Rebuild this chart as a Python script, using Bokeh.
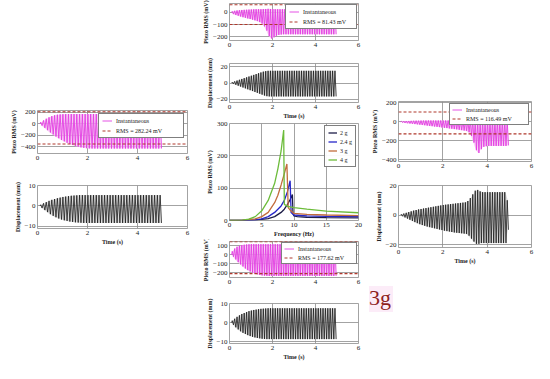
from bokeh.plotting import figure
from bokeh.models import Range1d, FixedTicker, Legend, LegendItem, Spacer, Div
from bokeh.layouts import row, column
from bokeh.embed import file_html
from bokeh.resources import INLINE

# ---------------- data ----------------
cycle_start = 0.1          # s, first excitation cycle
cycle_period = 1.0 / 9.0   # s, excitation period

time_ticks = [0, 2, 4, 6]

# 4 g run (left)
left_piezo_hi = [30, 60, 90, 115, 135, 150, 160, 165, 168, 170, 170,
                 170, 170, 170, 170, 170, 170, 170, 170, 170, 170, 170,
                 170, 170, 170, 170, 170, 170, 170, 170, 170, 170, 170,
                 170, 170, 170, 170, 170, 170, 170, 170, 170, 170, 170]
left_piezo_lo = [-30, -70, -110, -150, -185, -220, -250, -280, -305, -330, -350,
                 -368, -385, -398, -410, -418, -424, -428, -430, -430, -430, -430,
                 -430, -430, -430, -430, -430, -430, -430, -430, -430, -430, -430,
                 -430, -430, -430, -430, -430, -430, -430, -430, -430, -430, -430]
left_disp_hi = [0.6, 1.3, 1.9, 2.5, 3.0, 3.4, 3.8, 4.1, 4.4, 4.6, 4.8,
                5.0, 5.1, 5.2, 5.3, 5.3, 5.3, 5.3, 5.3, 5.3, 5.3, 5.3,
                5.3, 5.3, 5.3, 5.3, 5.3, 5.3, 5.3, 5.3, 5.3, 5.3, 5.3,
                5.3, 5.3, 5.3, 5.3, 5.3, 5.3, 5.3, 5.3, 5.3, 5.3, 5.3]
left_disp_lo = [-1.0, -2.0, -3.0, -4.0, -4.8, -5.5, -6.1, -6.6, -7.0, -7.3, -7.6,
                -7.8, -8.0, -8.1, -8.2, -8.3, -8.3, -8.3, -8.3, -8.3, -8.3, -8.3,
                -8.3, -8.3, -8.3, -8.3, -8.3, -8.3, -8.3, -8.3, -8.3, -8.3, -8.3,
                -8.3, -8.3, -8.3, -8.3, -8.3, -8.3, -8.3, -8.3, -8.3, -8.3, -8.3]
left_rms_lines = [212, -352]
left_rms_label = "RMS = 282.24 mV"

# 2 g run (top)
top_piezo_hi = [8, 12, 15, 17, 19, 20, 21, 22, 23, 24, 25,
                25, 25, 26, 27, 28, 27, 26, 25, 25, 25, 25,
                25, 25, 25, 25, 25, 25, 25, 25, 25, 25, 25,
                25, 25, 25, 25, 25, 25, 25, 25, 25, 25, 25]
top_piezo_lo = [-15, -22, -28, -34, -40, -45, -50, -55, -60, -66, -72,
                -80, -92, -115, -150, -195, -215, -205, -192, -185, -182, -180,
                -180, -180, -180, -180, -180, -180, -180, -180, -180, -180, -180,
                -180, -180, -180, -180, -180, -180, -180, -180, -180, -180, -180]
top_disp_hi = [1, 2, 3, 4, 5, 6, 7, 8, 9, 10, 11,
               12, 13, 14, 14.6, 15, 15, 15, 15, 15, 15, 15,
               15, 15, 15, 15, 15, 15, 15, 15, 15, 15, 15,
               15, 15, 15, 15, 15, 15, 15, 15, 15, 15, 15]
top_disp_lo = [-1.1, -2.2, -3.3, -4.4, -5.5, -6.6, -7.7, -8.8, -9.9, -11, -12.1,
               -13.2, -14.3, -15.4, -16.2, -16.5, -16.5, -16.5, -16.5, -16.5, -16.5, -16.5,
               -16.5, -16.5, -16.5, -16.5, -16.5, -16.5, -16.5, -16.5, -16.5, -16.5, -16.5,
               -16.5, -16.5, -16.5, -16.5, -16.5, -16.5, -16.5, -16.5, -16.5, -16.5, -16.5]
top_rms_lines = [62, -100]
top_rms_label = "RMS = 81.43 mV"

# 2.4 g run (right)
right_piezo_hi = [5, 7, 8, 9, 10, 11, 12, 12, 13, 13, 14,
                  14, 14, 14, 14, 14, 14, 14, 14, 14, 14, 14,
                  14, 14, 14, 14, 14, 14, 12, 10, 8, 8, 8,
                  8, 8, 8, 8, 8, 8, 8, 8, 8, 8, 8]
right_piezo_lo = [-8, -12, -15, -18, -21, -24, -27, -30, -33, -36, -40,
                  -43, -46, -50, -53, -56, -60, -63, -66, -70, -73, -77,
                  -80, -84, -88, -92, -96, -110, -150, -220, -300, -330, -290,
                  -265, -258, -255, -255, -255, -255, -255, -255, -255, -255, -250]
right_disp_hi = [0.5, 1.0, 1.5, 2.0, 2.5, 3.0, 3.4, 3.8, 4.1, 4.4, 4.7,
                 5.0, 5.3, 5.6, 5.9, 6.2, 6.5, 6.8, 7.0, 7.2, 7.4, 7.6,
                 7.8, 8.0, 8.2, 8.4, 8.6, 9.5, 11.5, 14.0, 16.5, 17.0, 16.0,
                 15.5, 15.5, 15.5, 15.5, 15.5, 15.5, 15.5, 15.5, 15.5, 15.5, 10.0]
right_disp_lo = [-0.8, -1.6, -2.4, -3.2, -4.0, -4.8, -5.5, -6.2, -6.8, -7.3, -7.8,
                 -8.2, -8.6, -9.0, -9.4, -9.8, -10.2, -10.6, -10.9, -11.2, -11.5, -11.8,
                 -12.0, -12.2, -12.4, -12.6, -12.8, -14.0, -16.0, -18.0, -19.5, -19.5, -19.0,
                 -19.0, -19.0, -19.0, -19.0, -19.0, -19.0, -19.0, -19.0, -19.0, -19.0, -10.0]
right_rms_lines = [104, -128]
right_rms_label = "RMS = 116.49 mV"

# 3 g run (bottom)
bottom_piezo_hi = [40, 70, 90, 100, 108, 112, 115, 117, 118, 118, 118,
                   118, 118, 118, 118, 118, 118, 118, 118, 118, 118, 118,
                   118, 118, 118, 118, 118, 118, 118, 118, 118, 118, 118,
                   118, 118, 118, 118, 118, 118, 118, 118, 118, 118, 118]
bottom_piezo_lo = [-20, -50, -80, -105, -128, -150, -168, -183, -196, -207, -215,
                   -222, -227, -230, -232, -233, -233, -233, -233, -233, -233, -233,
                   -233, -233, -233, -233, -233, -233, -233, -233, -233, -233, -233,
                   -233, -233, -233, -233, -233, -233, -233, -233, -233, -233, -233]
bottom_disp_hi = [1.0, 2.0, 3.0, 3.8, 4.5, 5.0, 5.5, 6.0, 6.3, 6.6, 6.8,
                  7.0, 7.2, 7.3, 7.4, 7.5, 7.5, 7.5, 7.5, 7.5, 7.5, 7.5,
                  7.5, 7.5, 7.5, 7.5, 7.5, 7.5, 7.5, 7.5, 7.5, 7.5, 7.5,
                  7.5, 7.5, 7.5, 7.5, 7.5, 7.5, 7.5, 7.5, 7.5, 7.5, 7.5]
bottom_disp_lo = [-1.2, -2.5, -3.6, -4.6, -5.4, -6.0, -6.6, -7.1, -7.5, -7.8, -8.1,
                  -8.3, -8.5, -8.6, -8.7, -8.7, -8.7, -8.7, -8.7, -8.7, -8.7, -8.7,
                  -8.7, -8.7, -8.7, -8.7, -8.7, -8.7, -8.7, -8.7, -8.7, -8.7, -8.7,
                  -8.7, -8.7, -8.7, -8.7, -8.7, -8.7, -8.7, -8.7, -8.7, -8.7, -8.7]
bottom_rms_lines = [147, -207]
bottom_rms_label = "RMS = 177.62 mV"

# frequency response (center)
freq_labels = ["2 g", "2.4 g", "3 g", "4 g"]
f_2g = [0, 2, 4, 5, 6, 7, 8, 8.5, 9, 9.4, 9.75, 9.85, 10, 10.5, 12, 15, 20]
v_2g = [0, 0.5, 2, 3.5, 6, 12, 25, 35, 50, 65, 80, 20, 14, 12, 10, 9, 8]
f_24g = [0, 2, 4, 5, 6, 7, 8, 8.5, 9, 9.4, 9.55, 10, 12, 15, 20]
v_24g = [0, 0.5, 2, 5, 12, 25, 45, 62, 90, 123, 25, 17, 14, 13, 12]
f_3g = [0, 2, 4, 5, 6, 7, 7.5, 8, 8.5, 8.9, 9.1, 9.5, 10, 12, 15, 20]
v_3g = [0, 1, 5, 12, 25, 55, 78, 110, 145, 175, 40, 30, 22, 19, 17, 15]
f_4g = [0, 2, 3, 4, 5, 6, 7, 7.5, 8, 8.4, 8.5, 9, 10, 12, 15, 20]
v_4g = [0, 1, 4, 12, 30, 62, 115, 160, 215, 280, 50, 44, 40, 35, 29, 24]

# ---------------- layout helpers ----------------
SX = 534 / 550
SY = 363 / 379
SERIF = "Liberation Serif"
GRID = "#8c8c8c"
PINK_LINE = "#e23ee2"
PINK_FILL = "#f8c4f2"
RMS_COLOR = "#b0382c"


def sx(v):
    return int(round(v * SX))


def sy(v):
    return int(round(v * SY))


def make_panel(outer, frame, xr, yr, xticks, yticks, ylabel, xlabel=None):
    ox0, oy0, ox1, oy1 = outer
    fx0, fy0, fx1, fy1 = frame
    p = figure(width=sx(ox1) - sx(ox0), height=sy(oy1) - sy(oy0),
               x_range=Range1d(*xr), y_range=Range1d(*yr),
               min_border_left=sx(fx0) - sx(ox0), min_border_right=sx(ox1) - sx(fx1),
               min_border_top=sy(fy0) - sy(oy0), min_border_bottom=sy(oy1) - sy(fy1),
               output_backend="svg", toolbar_location=None)
    p.outline_line_color = GRID
    p.outline_line_width = 0.8
    p.background_fill_color = "white"
    p.border_fill_color = "white"
    p.xaxis.ticker = FixedTicker(ticks=xticks)
    p.yaxis.ticker = FixedTicker(ticks=yticks)
    p.xgrid.ticker = FixedTicker(ticks=xticks)
    p.ygrid.ticker = FixedTicker(ticks=yticks)
    for g in (p.xgrid[0], p.ygrid[0]):
        g.grid_line_color = GRID
        g.grid_line_width = 0.8
    for ax in (p.xaxis[0], p.yaxis[0]):
        ax.axis_line_color = None
        ax.major_tick_line_color = None
        ax.minor_tick_line_color = None
        ax.major_tick_out = 0
        ax.major_tick_in = 0
        ax.major_label_text_font = SERIF
        ax.major_label_text_font_size = "7px"
        ax.major_label_text_color = "#222222"
        ax.major_label_standoff = 2
        ax.axis_label_text_font = SERIF
        ax.axis_label_text_font_size = "6px"
        ax.axis_label_text_font_style = "bold"
        ax.axis_label_text_color = "#222222"
        ax.axis_label_standoff = 1
    p.yaxis.axis_label = ylabel
    if xlabel:
        p.xaxis.axis_label = xlabel
    return p


def zigzag(hi, lo):
    xs, ys = [cycle_start], [0.0]
    for k in range(len(hi)):
        t0 = cycle_start + k * cycle_period
        xs += [t0 + 0.25 * cycle_period, t0 + 0.75 * cycle_period]
        ys += [hi[k], lo[k]]
    return xs, ys


def centers(n):
    return [cycle_start + (k + 0.5) * cycle_period for k in range(n)]


def piezo_panel(outer, frame, yr, yticks, hi, lo, rms_lines, rms_label,
                leg_w, leg_pad, leg_spacing, leg_margin):
    p = make_panel(outer, frame, (0, 6), yr, time_ticks, yticks, "Piezo RMS (mV)")
    p.varea(x=centers(len(hi)), y1=lo, y2=hi, color=PINK_FILL, alpha=0.8)
    xs, ys = zigzag(hi, lo)
    r_inst = p.line(xs, ys, line_color=PINK_LINE, line_width=0.9)
    r_rms = None
    for v in rms_lines:
        r = p.line([0, 6], [v, v], line_color=RMS_COLOR, line_width=1.1, line_dash="3 2")
        r_rms = r_rms or r
    leg = Legend(items=[LegendItem(label="Instantaneous", renderers=[r_inst]),
                        LegendItem(label=rms_label, renderers=[r_rms])],
                 location="top_right")
    leg.label_text_font = SERIF
    leg.label_text_font_size = "6px"
    leg.label_text_color = "#222222"
    leg.glyph_width = 10
    leg.glyph_height = 7
    leg.label_height = 7
    leg.label_width = leg_w
    leg.label_standoff = 4
    leg.padding = leg_pad
    leg.spacing = leg_spacing
    leg.margin = leg_margin
    leg.border_line_color = "black"
    leg.border_line_width = 0.8
    leg.background_fill_alpha = 1.0
    p.add_layout(leg)
    return p


def disp_panel(outer, frame, yr, yticks, hi, lo, xlabel="Time (s)"):
    p = make_panel(outer, frame, (0, 6), yr, time_ticks, yticks, "Displacement (mm)", xlabel)
    p.varea(x=centers(len(hi)), y1=lo, y2=hi, color="#cfcfcf", alpha=0.7)
    xs, ys = zigzag(hi, lo)
    p.line(xs, ys, line_color="#1c1c1c", line_width=0.8)
    return p


# ---------------- left column (4 g) ----------------
left_piezo = piezo_panel((0, 105, 200, 172), (38, 115, 193, 160), (-517, 233),
                         [200, 0, -200, -400], left_piezo_hi, left_piezo_lo,
                         left_rms_lines, left_rms_label, 64, 3, 3, 3)
left_disp = disp_panel((0, 172, 200, 265), (38, 193, 193, 238), (-11, 10),
                       [10, 0, -10], left_disp_hi, left_disp_lo)
left_col = column(Spacer(width=sx(200), height=sy(105)), left_piezo, left_disp)

# ---------------- center column ----------------
top_piezo = piezo_panel((200, 0, 380, 56), (236, 3, 369, 42), (-231, 72),
                        [0, -100, -200], top_piezo_hi, top_piezo_lo,
                        top_rms_lines, top_rms_label, 50, 3, 3, 1)
top_disp = disp_panel((200, 56, 380, 126), (236, 66, 369, 108), (-24, 24),
                      [20, 0, -20], top_disp_hi, top_disp_lo)

freq = make_panel((200, 126, 380, 250), (227, 128, 373, 231), (0, 20), (0, 300),
                  [0, 5, 10, 15, 20], [0, 100, 200, 300], "Piezo RMS (mV)", "Frequency (Hz)")
freq_colors = ["#1d1d48", "#2626c8", "#c26c3c", "#6cbc3a"]
freq_data = [(f_2g, v_2g), (f_24g, v_24g), (f_3g, v_3g), (f_4g, v_4g)]
freq_items = []
for lab, col, (fx, fv) in zip(freq_labels, freq_colors, freq_data):
    r = freq.line(fx, fv, line_color=col, line_width=1.3)
    freq_items.append(LegendItem(label=lab, renderers=[r]))
fleg = Legend(items=freq_items, location="top_right")
fleg.label_text_font = SERIF
fleg.label_text_font_size = "6px"
fleg.label_text_color = "#222222"
fleg.glyph_width = 9
fleg.glyph_height = 7
fleg.label_height = 7
fleg.label_width = 11
fleg.label_standoff = 3
fleg.padding = 3
fleg.spacing = 2
fleg.margin = 2
fleg.border_line_color = "black"
fleg.border_line_width = 0.8
freq.add_layout(fleg)

bottom_piezo = piezo_panel((200, 250, 380, 300), (236, 252, 369, 289), (-250, 148),
                           [100, 0, -100, -200], bottom_piezo_hi, bottom_piezo_lo,
                           bottom_rms_lines, bottom_rms_label, 56, 2, 2, 1)
bottom_disp = disp_panel((200, 300, 380, 379), (236, 316, 369, 358), (-11, 10),
                         [10, 0, -10], bottom_disp_hi, bottom_disp_lo)
center_col = column(top_piezo, top_disp, freq, bottom_piezo, bottom_disp)

# ---------------- right column (2.4 g) ----------------
right_piezo = piezo_panel((380, 95, 550, 178), (408, 105, 547, 170), (-420, 215),
                          [200, 0, -200, -400], right_piezo_hi, right_piezo_lo,
                          right_rms_lines, right_rms_label, 60, 2, 2, 2)
right_disp = disp_panel((380, 178, 550, 280), (408, 193, 547, 258), (-22, 20),
                        [20, 0, -20], right_disp_hi, right_disp_lo)
label_3g = Div(text="3g", width=24, height=26, margin=(0, 0, 0, 0),
               styles={"font-family": SERIF, "font-size": "22px", "color": "#8e1f1f",
                       "line-height": "24px", "background-color": "#fcecf8"})
right_col = column(Spacer(width=sx(550) - sx(380), height=sy(95)), right_piezo, right_disp,
                   Spacer(width=10, height=sy(299) - sy(280)), label_3g)

layout = row(left_col, center_col, right_col)

open("out.html", "w").write(file_html(layout, INLINE))
